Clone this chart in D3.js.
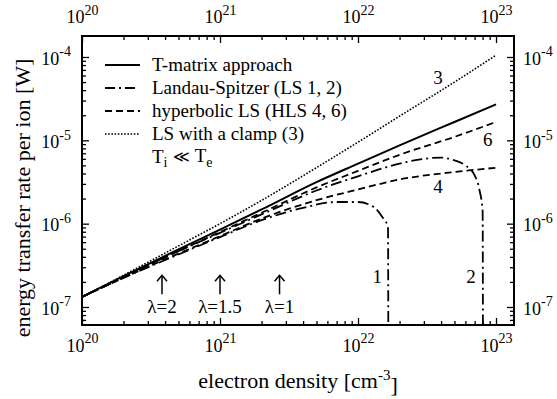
<!doctype html>
<html lang=en>
<head>
<meta charset=utf-8>
<title>Energy transfer rate per ion</title>
<script src="https://d3js.org/d3.v7.min.js"></script>
<style>
body{margin:0;background:#fff;}
text{font-family:"Liberation Serif","Times New Roman",serif;fill:#000;}
</style>
</head>
<body>
<div id="chart"></div>
<script>
// electron density grid [cm^-3] shared by the smooth curves
var nGrid = [1e20, 2e20, 5e20, 1e21, 2e21, 5e21, 1e22, 2e22, 5e22, 1e23];
var tMatrix = [1.32e-7, 2.34e-7, 4.9e-7, 8.5e-7, 1.48e-6, 3.15e-6, 5.25e-6, 8.7e-6, 1.66e-5, 2.7e-5];
var lsClamp = [1.32e-7, 2.4e-7, 5.4e-7, 1.0e-6, 1.9e-6, 4.7e-6, 9.5e-6, 1.95e-5, 5.0e-5, 1.05e-4];
var hls6 = [1.32e-7, 2.29e-7, 4.68e-7, 7.94e-7, 1.35e-6, 2.72e-6, 4.3e-6, 6.7e-6, 1.1e-5, 1.66e-5];
var hls4 = [1.32e-7, 2.24e-7, 4.37e-7, 7.08e-7, 1.15e-6, 1.91e-6, 2.57e-6, 3.39e-6, 4.17e-6, 4.68e-6];

// Landau-Spitzer curves break down (drop to zero) at high density
var nLS1 = [1e20, 2e20, 5e20, 1e21, 2e21, 4e21, 7e21, 1e22, 1.3e22, 1.5e22, 1.65e22, 1.66e22];
var ls1 = [1.32e-7, 2.24e-7, 4.27e-7, 6.9e-7, 1.1e-6, 1.55e-6, 1.82e-6, 1.82e-6, 1.58e-6, 1.2e-6, 9.1e-7, 1e-8];
var nLS2 = [1e20, 2e20, 5e20, 1e21, 2e21, 5e21, 1e22, 2e22, 3e22, 4e22, 5e22, 6e22, 7e22, 7.6e22, 8e22, 8.05e22];
var ls2 = [1.32e-7, 2.29e-7, 4.68e-7, 7.76e-7, 1.29e-6, 2.5e-6, 3.7e-6, 5.25e-6, 6.0e-6, 6.2e-6, 5.75e-6, 5.0e-6, 3.8e-6, 2.5e-6, 1.41e-6, 1e-8];

var xTicks = [1e20, 1e21, 1e22, 1e23];
var yTicks = [1e-7, 1e-6, 1e-5, 1e-4];

var legendLabels = ["T-matrix approach", "Landau-Spitzer (LS 1, 2)", "hyperbolic LS (HLS 4, 6)", "LS with a clamp (3)"];

var lambdaN = [3.8e20, 1e21, 2.7e21];
var lambdaLabels = ["\u03bb=2", "\u03bb=1.5", "\u03bb=1"];

var curveTags = ["3", "6", "4", "1", "2"];
var tagN = [3.8e22, 8.7e22, 3.8e22, 1.38e22, 6.6e22];
var tagV = [5.6e-5, 1.0e-5, 2.75e-6, 2.3e-7, 2.3e-7];

var w = 557, h = 399;
var pL = 82, pR = 514, pT = 36, pB = 325;

var svg = d3.select("#chart").append("svg")
    .attr("width", w).attr("height", h)
    .style("background", "#fff");

var x = d3.scaleLog().domain([1e20, 1.35e23]).range([pL, pR]);
var y = d3.scaleLog().domain([6.08e-8, 1.786e-4]).range([pB, pT]);

function minorTicks(scale) {
    var d = scale.domain(), out = [];
    for (var e = Math.floor(Math.log10(d[0])); e <= Math.ceil(Math.log10(d[1])); e++)
        for (var m = 2; m <= 9; m++) {
            var v = m * Math.pow(10, e);
            if (v > d[0] && v < d[1]) out.push(v);
        }
    return out;
}

function pow10(sel) {
    sel.each(function(d) {
        var t = d3.select(this);
        var e = Math.round(Math.log10(d));
        t.text(null);
        t.append("tspan").text("10");
        t.append("tspan").attr("dy", "-0.6em").attr("font-size", "14px").text(e);
    });
}

function styleAxis(g) {
    g.attr("font-family", null).attr("font-size", 18);
    g.select(".domain").remove();
    g.selectAll("line").attr("stroke", "#000").attr("stroke-width", 1.3);
}

// major ticks with labels, pointing inward
var axB = svg.append("g").attr("transform", "translate(0," + pB + ")")
    .call(d3.axisBottom(x).tickValues(xTicks).tickSize(-7).tickPadding(14));
var axT = svg.append("g").attr("transform", "translate(0," + pT + ")")
    .call(d3.axisTop(x).tickValues(xTicks).tickSize(-7).tickPadding(13));
var axL = svg.append("g").attr("transform", "translate(" + pL + ",0)")
    .call(d3.axisLeft(y).tickValues(yTicks).tickSize(-7).tickPadding(11));
var axR = svg.append("g").attr("transform", "translate(" + pR + ",0)")
    .call(d3.axisRight(y).tickValues(yTicks).tickSize(-7).tickPadding(9));
[axB, axT, axL, axR].forEach(styleAxis);
[axB, axT].forEach(function(g) {
    g.selectAll(".tick text").attr("text-anchor", "middle").call(pow10);
});
[axL, axR].forEach(function(g) {
    g.selectAll(".tick text").attr("dy", "0.4em").call(pow10);
});

// minor ticks
var mx = minorTicks(x), my = minorTicks(y);
[
    [d3.axisBottom(x), "translate(0," + pB + ")", mx],
    [d3.axisTop(x), "translate(0," + pT + ")", mx],
    [d3.axisLeft(y), "translate(" + pL + ",0)", my],
    [d3.axisRight(y), "translate(" + pR + ",0)", my]
].forEach(function(a) {
    var g = svg.append("g").attr("transform", a[1])
        .call(a[0].tickValues(a[2]).tickSize(-4).tickFormat(""));
    styleAxis(g);
});

svg.append("rect")
    .attr("x", pL).attr("y", pT)
    .attr("width", pR - pL).attr("height", pB - pT)
    .attr("fill", "none").attr("stroke", "#000").attr("stroke-width", 2);

svg.append("clipPath").attr("id", "plot")
    .append("rect").attr("x", pL).attr("y", pT)
    .attr("width", pR - pL).attr("height", pB - pT);

var dashDot = "11,4,2,4", dashed = "7,4", dotted = "1.6,1.6";

var series = [
    {n: nGrid, v: lsClamp, dash: dotted, sw: 1.6},
    {n: nGrid, v: hls4, dash: dashed, sw: 1.8},
    {n: nGrid, v: hls6, dash: dashed, sw: 1.8},
    {n: nLS1, v: ls1, dash: dashDot, sw: 1.8},
    {n: nLS2, v: ls2, dash: dashDot, sw: 1.8},
    {n: nGrid, v: tMatrix, dash: null, sw: 2}
];

var line = d3.line()
    .x(function(d) { return x(d[0]); })
    .y(function(d) { return y(d[1]); })
    .curve(d3.curveMonotoneX);

svg.append("g").attr("clip-path", "url(#plot)")
    .selectAll("path")
    .data(series)
    .enter()
    .append("path")
    .attr("d", function(s) { return line(d3.zip(s.n, s.v)); })
    .attr("fill", "none")
    .attr("stroke", "#000")
    .attr("stroke-width", function(s) { return s.sw; })
    .attr("stroke-dasharray", function(s) { return s.dash; });

// legend
var legDash = [null, "10,4,2,4,10", dashed, dotted];
var leg = svg.append("g").attr("font-size", 19);
legendLabels.forEach(function(t, i) {
    var yy = 65 + i * 23;
    leg.append("line")
        .attr("x1", 105).attr("x2", 140).attr("y1", yy).attr("y2", yy)
        .attr("stroke", "#000").attr("stroke-width", i == 3 ? 1.6 : 1.8)
        .attr("stroke-dasharray", legDash[i]);
    leg.append("text").attr("x", 152).attr("y", yy + 6).text(t);
});
var ti = leg.append("text").attr("x", 152).attr("y", 65 + 4 * 23 + 6);
ti.append("tspan").text("T");
ti.append("tspan").attr("dy", "0.3em").attr("font-size", "14px").text("i");
ti.append("tspan").attr("dy", "-0.3em").attr("font-family", "DejaVu Serif").attr("font-size", "16px").text(" \u226a ");
ti.append("tspan").text("T");
ti.append("tspan").attr("dy", "0.3em").attr("font-size", "14px").text("e");

// curve numbers
svg.append("g").attr("font-size", 19).attr("text-anchor", "middle")
    .selectAll("text")
    .data(curveTags)
    .enter()
    .append("text")
    .attr("x", function(d, i) { return x(tagN[i]); })
    .attr("y", function(d, i) { return y(tagV[i]) + 6; })
    .text(function(d) { return d; });

// lambda markers
var lam = svg.append("g");
lambdaN.forEach(function(n, i) {
    var xx = x(n), y0 = y(1.42e-7), y1 = y(2.4e-7);
    lam.append("line").attr("x1", xx).attr("x2", xx).attr("y1", y0).attr("y2", y1)
        .attr("stroke", "#000").attr("stroke-width", 1.5);
    lam.append("path")
        .attr("d", "M" + (xx - 5) + "," + (y1 + 6) + "L" + xx + "," + y1 + "L" + (xx + 5) + "," + (y1 + 6))
        .attr("fill", "none").attr("stroke", "#000").attr("stroke-width", 1.5);
    lam.append("text").attr("x", xx).attr("y", y(1e-7) + 6)
        .attr("text-anchor", "middle").attr("font-size", 19)
        .text(lambdaLabels[i]);
});

// axis titles
var xl = svg.append("text").attr("x", 298).attr("y", 388)
    .attr("text-anchor", "middle").attr("font-size", 22);
xl.append("tspan").text("electron density [cm");
xl.append("tspan").attr("dy", "-0.55em").attr("font-size", "15px").text("-3");
xl.append("tspan").attr("dy", "0.55em").text("]");

svg.append("text")
    .attr("transform", "translate(30,198) rotate(-90)")
    .attr("text-anchor", "middle").attr("font-size", 22)
    .text("energy transfer rate per ion [W]");
</script>
</body>
</html>
